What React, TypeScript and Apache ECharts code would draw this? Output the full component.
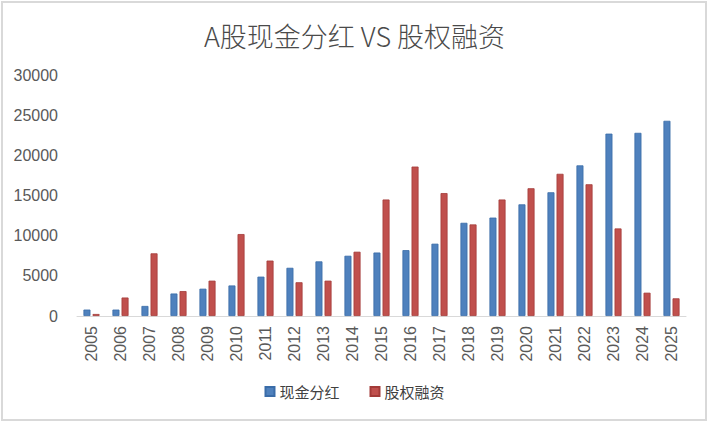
import React, { useEffect, useRef } from "react";
import * as echarts from "echarts";

const years = ["2005", "2006", "2007", "2008", "2009", "2010", "2011", "2012", "2013", "2014", "2015", "2016", "2017", "2018", "2019", "2020", "2021", "2022", "2023", "2024", "2025"];
const cashDividend = [800, 800, 1250, 2800, 3400, 3800, 4900, 6000, 6800, 7500, 7900, 8200, 9000, 11600, 12250, 13900, 15400, 18750, 22700, 22800, 24300];
const equityFinancing = [250, 2300, 7800, 3100, 4400, 10200, 6900, 4200, 4400, 8000, 14500, 18600, 15300, 11400, 14500, 15900, 17700, 16400, 10900, 2900, 2200];
const seriesNames = ["现金分红", "股权融资"];
const titleText = "A股现金分红 VS 股权融资";

export default function App() {
  const ref = useRef<HTMLDivElement>(null);
  useEffect(() => {
    if (!ref.current) return;
    const chart = echarts.init(ref.current, null, { renderer: "svg" });
    chart.setOption({
      animation: false,
      backgroundColor: "#ffffff",
      title: {
        text: titleText,
        left: "center",
        top: 17,
        textStyle: {
          fontFamily: "Noto Sans CJK SC",
          fontSize: 27,
          fontWeight: 300,
          color: "#4a4a4a",
        },
      },
      legend: {
        data: seriesNames,
        bottom: 18,
        left: "center",
        icon: "rect",
        itemWidth: 9,
        itemHeight: 9,
        itemGap: 30,
        textStyle: { fontFamily: "Noto Sans CJK SC", fontSize: 15, color: "#404040" },
      },
      grid: { left: 77, right: 23, top: 75, bottom: 106 },
      xAxis: {
        type: "category",
        data: years,
        axisLine: { lineStyle: { color: "#d9d9d9", width: 1 } },
        axisTick: { show: false },
        axisLabel: {
          rotate: 90,
          interval: 0,
          margin: 10,
          fontFamily: "Liberation Sans",
          fontSize: 16,
          color: "#595959",
        },
      },
      yAxis: {
        type: "value",
        min: 0,
        max: 30000,
        interval: 5000,
        axisLine: { show: false },
        axisTick: { show: false },
        splitLine: { show: false },
        axisLabel: {
          margin: 19,
          fontFamily: "Liberation Sans",
          fontSize: 16,
          color: "#595959",
          formatter: (v: number) => String(v),
        },
      },
      series: [
        {
          name: seriesNames[0],
          type: "bar",
          data: cashDividend,
          barWidth: 7,
          barGap: "30%",
          itemStyle: { color: "#4f81bd", borderColor: "#3a6ca8", borderWidth: 0.8 },
        },
        {
          name: seriesNames[1],
          type: "bar",
          data: equityFinancing,
          barWidth: 7,
          barGap: "30%",
          itemStyle: { color: "#c0504d", borderColor: "#a33b38", borderWidth: 0.8 },
        },
      ],
    });
    return () => chart.dispose();
  }, []);
  return (
    <div style={{ position: "absolute", left: 0, top: 0, width: 709, height: 422 }}>
      <div ref={ref} style={{ position: "absolute", left: 0, top: 0, width: 709, height: 422 }} />
      <div
        style={{
          position: "absolute",
          left: 1,
          top: 1,
          width: 706,
          height: 420,
          boxSizing: "border-box",
          border: "2px solid #d9d9d9",
          pointerEvents: "none",
        }}
      />
    </div>
  );
}
